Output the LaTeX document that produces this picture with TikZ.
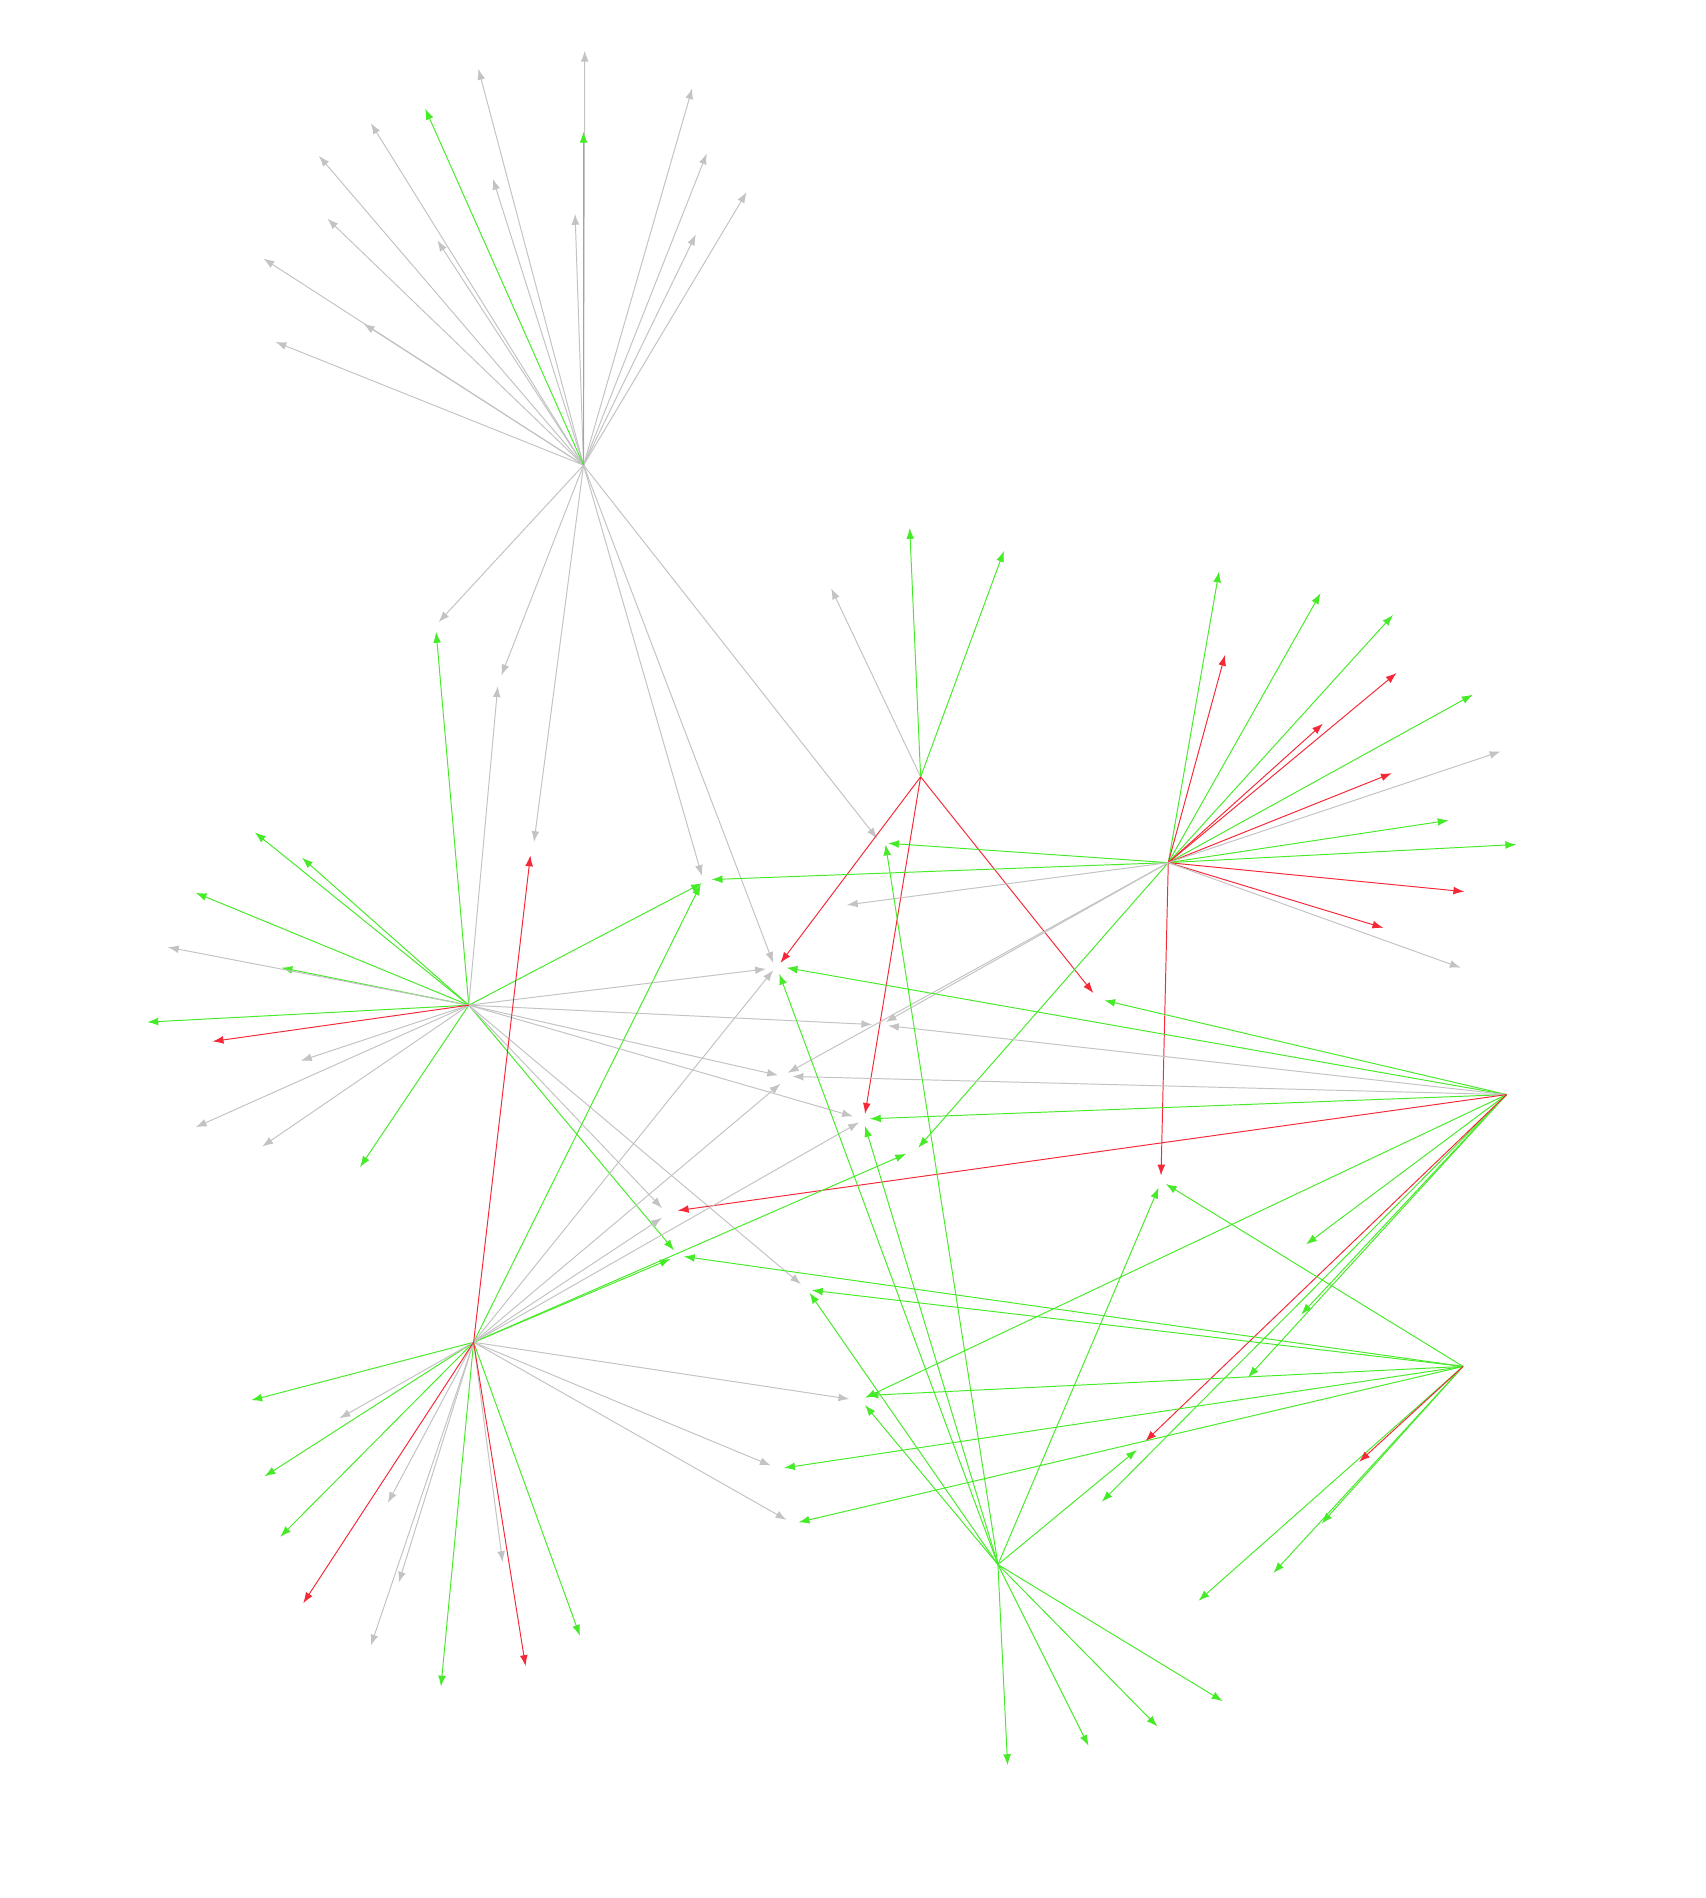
\documentclass[tikz,border=0pt]{standalone}
\usetikzlibrary{arrows.meta}
\begin{document}
\begin{tikzpicture}[x=1pt,y=-1pt,
 e/.style={line width=0.8pt,-{Latex[length=9pt,width=6.5pt]}},
 gr/.style={e,draw={rgb,255:red,195;green,195;blue,195}},
 gn/.style={e,draw={rgb,255:red,70;green,235;blue,40}},
 rd/.style={e,draw={rgb,255:red,245;green,40;blue,55}}]
\useasboundingbox[fill=white] (0,0) rectangle (1412,1571);
\coordinate (A) at (483,385);
\coordinate (B) at (762,643);
\coordinate (C) at (967,714);
\coordinate (D) at (388,832);
\coordinate (E) at (1247,906);
\coordinate (F) at (1211,1131);
\coordinate (G) at (392,1111);
\coordinate (H) at (826,1295);
\foreach \p in {(484,42),(396,57),(573,73),(307,102),(585,127),(264,129),(408,148),(476,177),(618,159),(271,181),(362,199),(576,194),(218,214),(301,268),(228,283),(363,515),(415,559),(442,697),(581,725),(640,797),(726,694)} \draw[gr] (A) -- \p;
\foreach \p in {(352,90),(483,109)} \draw[gn] (A) -- \p;
\draw[gr] (B) -- (688,487);
\foreach \p in {(753,437),(831,456)} \draw[gn] (B) -- \p;
\foreach \p in {(646,797),(716,922),(905,822)} \draw[rd] (B) -- \p;
\foreach \p in {(1009,473),(1093,491),(1153,509),(1219,575),(1199,679),(1255,699),(735,698),(589,728),(760,950)} \draw[gn] (C) -- \p;
\foreach \p in {(1014,542),(1095,599),(1156,557),(1152,640),(1212,738),(1145,768),(961,973)} \draw[rd] (C) -- \p;
\foreach \p in {(1242,622),(1209,801),(701,749),(733,846),(652,888)} \draw[gr] (C) -- \p;
\foreach \p in {(361,523),(211,689),(250,710),(162,739),(233,801),(122,846),(298,966),(581,731),(558,1035)} \draw[gn] (D) -- \p;
\foreach \p in {(412,568),(139,784),(249,878),(162,933),(217,949),(634,802),(722,848),(644,890),(706,924),(548,1000),(663,1063)} \draw[gr] (D) -- \p;
\draw[rd] (D) -- (176,862);
\foreach \p in {(651,801),(720,926),(1081,1030),(1077,1088),(1033,1140),(912,1243),(716,1157),(914,828)} \draw[gn] (E) -- \p;
\foreach \p in {(735,849),(656,891)} \draw[gr] (E) -- \p;
\foreach \p in {(561,1002),(948,1193)} \draw[rd] (E) -- \p;
\foreach \p in {(965,980),(566,1040),(672,1068),(718,1155),(649,1215),(661,1260),(1094,1261),(992,1325),(1054,1302)} \draw[gn] (F) -- \p;
\draw[rd] (F) -- (1125,1210);
\foreach \p in {(580,732),(555,1042),(750,955),(208,1159),(219,1222),(232,1272),(365,1396),(480,1354)} \draw[gn] (G) -- \p;
\foreach \p in {(640,803),(646,897),(711,929),(548,1008),(703,1158),(638,1213),(651,1258),(281,1174),(321,1244),(330,1310),(307,1362),(416,1293)} \draw[gr] (G) -- \p;
\foreach \p in {(439,708),(251,1327),(435,1379)} \draw[rd] (G) -- \p;
\foreach \p in {(645,806),(716,932),(959,983),(733,699),(941,1200),(670,1070),(716,1163),(1012,1408),(958,1429),(901,1445),(834,1461)} \draw[gn] (H) -- \p;
\end{tikzpicture}
\end{document}
